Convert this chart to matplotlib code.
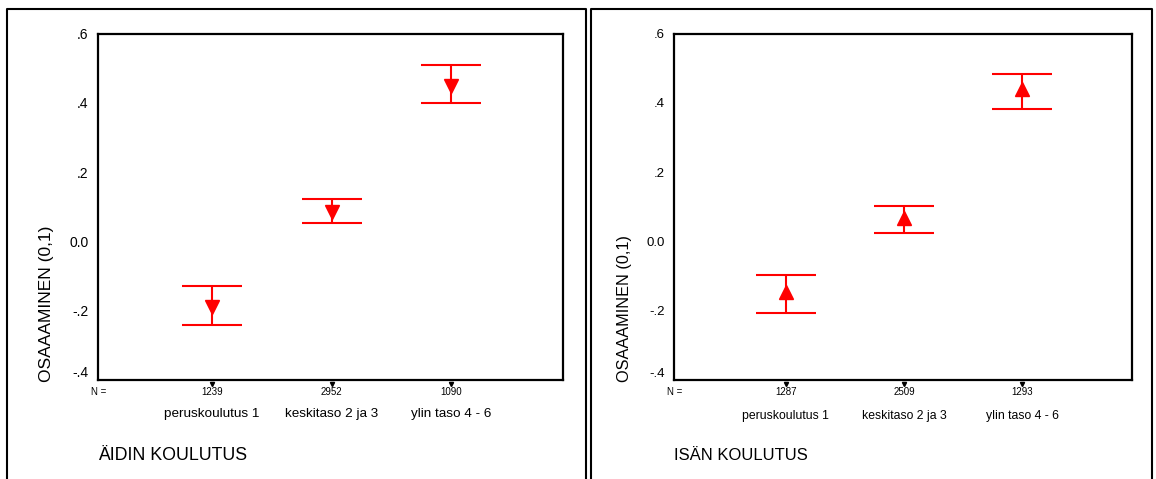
import matplotlib
matplotlib.use('Agg')
import matplotlib.pyplot as plt
from matplotlib.lines import Line2D

plt.rcParams['font.family'] = ['Liberation Sans', 'DejaVu Sans']

# data
categories = ['peruskoulutus 1', 'keskitaso 2 ja 3', 'ylin taso 4 - 6']
positions = [1, 2, 3]
ytick_vals = [-0.4, -0.2, 0.0, 0.2, 0.4, 0.6]
ytick_labels = ['-.4', '-.2', '0.0', '.2', '.4', '.6']

mother_n = [1239, 2952, 1090]
mother_mean = [-0.190, 0.084, 0.449]
mother_lo = [-0.240, 0.053, 0.400]
mother_hi = [-0.129, 0.124, 0.510]

father_n = [1287, 2509, 1293]
father_mean = [-0.146, 0.069, 0.441]
father_lo = [-0.207, 0.025, 0.383]
father_hi = [-0.098, 0.102, 0.483]

fig = plt.figure(figsize=(11.56, 4.79), dpi=100)

# outer panel frames (bottom edge runs off the image)
for x0, x1 in [(7, 586), (591, 1152)]:
    xs = [x0 / 1156, x0 / 1156, x1 / 1156, x1 / 1156]
    ys = [-0.1, 1 - 9 / 479, 1 - 9 / 479, -0.1]
    fig.add_artist(Line2D(xs, ys, color='black', lw=1.5, transform=fig.transFigure))


def panel(rect, mean, lo, hi, n, marker, xlabel, fs_small, fs_tick, fs_cat, fs_lab,
          ylab_x, cat_y):
    ax = fig.add_axes(rect)
    yerr = [[m - l for m, l in zip(mean, lo)], [h - m for m, h in zip(mean, hi)]]
    ax.errorbar(positions, mean, yerr=yerr, fmt=marker, color='red', ecolor='red',
                markersize=9.5, elinewidth=1.5, capsize=21.6, capthick=1.5)
    ax.set_xlim(0.055, 3.93)
    ax.set_ylim(-0.4, 0.6)
    for s in ax.spines.values():
        s.set_linewidth(1.6)
    ax.set_xticks([])
    ax.set_yticks(ytick_vals)
    ax.set_yticklabels(ytick_labels, fontsize=fs_tick)
    ax.tick_params(axis='y', length=0, pad=7)
    ax.get_yticklabels()[0].set_va('bottom')

    tr = ax.get_xaxis_transform()
    ax.plot(positions, [-0.011] * 3, marker='v', ls='none', color='black',
            markersize=3, transform=tr, clip_on=False)
    ax.text(0.0, -0.034, 'N =', transform=ax.transAxes, ha='center', va='center',
            fontsize=fs_small)
    for p, c, k in zip(positions, categories, n):
        ax.text(p, -0.034, str(k), transform=tr, ha='center', va='center',
                fontsize=fs_small)
        ax.text(p, cat_y, c, transform=tr, ha='center', va='center', fontsize=fs_cat)
    ax.text(0.0, -0.217, xlabel, transform=ax.transAxes, ha='left', va='center',
            fontsize=fs_lab)
    ax.text(ylab_x, -0.006, 'OSAAAMINEN (0,1)', transform=ax.transAxes, rotation=90,
            ha='center', va='bottom', fontsize=fs_lab - 0.3)
    return ax


panel([98.3 / 1156, 1 - 380 / 479, 464.7 / 1156, 346.3 / 479],
      mother_mean, mother_lo, mother_hi, mother_n, 'v', 'ÄIDIN KOULUTUS',
      7, 10, 9.7, 12.8, -0.111, -0.097)
panel([674.3 / 1156, 1 - 380 / 479, 457.7 / 1156, 346.3 / 479],
      father_mean, father_lo, father_hi, father_n, '^', 'ISÄN KOULUTUS',
      7, 9.5, 8.8, 12, -0.108, -0.104)

fig.savefig('out.png', dpi=100)
